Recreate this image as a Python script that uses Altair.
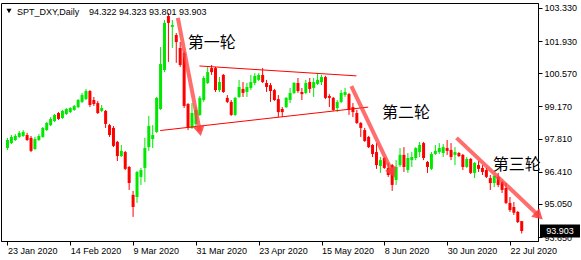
import math
import altair as alt
import pandas as pd

# ---------------- data ----------------
header_name = "SPT_DXY,Daily"

opens = [97.41, 97.62, 97.75, 97.88, 97.92, 97.96, 97.84, 97.37, 97.75, 97.88,
         98.17, 98.38, 98.55, 98.89, 98.68, 98.85, 98.93, 99.02, 99.14, 99.36,
         99.48, 99.82, 99.44, 99.31, 98.98, 98.98, 98.38, 98.26, 97.67, 97.07,
         97.24, 96.61, 95.43, 95.34, 96.19, 96.57, 97.45, 97.79, 98.09, 99.06,
         100.71, 102.99, 102.53, 102.19, 101.64, 101.43, 99.27, 98.26, 98.43, 98.81,
         99.44, 100.16, 100.79, 100.79, 99.86, 100.50, 99.53, 99.36, 98.81, 99.57,
         99.91, 99.78, 99.95, 100.16, 100.29, 100.50, 100.16, 100.07, 99.86, 99.48,
         99.06, 99.14, 99.44, 99.74, 100.16, 99.78, 99.74, 100.20, 99.95, 100.12,
         100.20, 100.41, 99.61, 99.53, 99.10, 99.36, 99.65, 99.69, 99.14, 98.89,
         98.47, 98.17, 97.88, 97.54, 97.24, 96.65, 96.99, 96.57, 96.69, 96.06,
         96.69, 97.12, 96.48, 96.90, 96.99, 97.24, 97.62, 96.82, 96.53, 97.16,
         97.24, 97.20, 97.41, 97.33, 97.12, 97.20, 97.12, 96.61, 96.95, 96.36,
         96.69, 96.57, 96.48, 96.14, 95.93, 96.19, 95.97, 95.72, 95.09, 94.92,
         94.71, 94.322]
highs = [97.84, 97.96, 98.00, 98.13, 98.17, 98.05, 97.92, 97.88, 98.00, 98.30,
         98.51, 98.72, 98.85, 98.93, 99.02, 99.10, 99.14, 99.23, 99.48, 99.74,
         99.91, 99.86, 99.57, 99.40, 99.23, 99.02, 98.43, 98.34, 97.71, 97.54,
         97.29, 96.65, 95.60, 96.44, 96.57, 97.84, 98.77, 98.38, 99.57, 101.68,
         102.82, 103.12, 102.82, 102.27, 101.89, 101.51, 99.31, 99.31, 99.14, 99.61,
         100.46, 100.84, 100.92, 100.84, 100.41, 100.54, 99.65, 99.44, 99.57, 100.29,
         100.20, 100.16, 100.50, 100.58, 100.58, 100.79, 100.29, 100.16, 99.91, 99.65,
         99.14, 99.57, 99.95, 100.20, 100.37, 99.95, 100.29, 100.37, 100.37, 100.58,
         100.50, 100.46, 99.69, 99.57, 99.44, 99.86, 99.95, 99.74, 99.31, 99.02,
         98.51, 98.26, 97.92, 97.58, 97.62, 97.03, 97.03, 96.78, 96.74, 96.90,
         97.41, 97.45, 97.20, 97.24, 97.45, 97.67, 97.67, 96.86, 97.24, 97.54,
         97.62, 97.58, 97.75, 97.62, 97.45, 97.24, 97.16, 97.03, 96.99, 96.82,
         96.86, 96.69, 96.57, 96.27, 96.27, 96.36, 96.02, 95.93, 95.34, 95.13,
         94.75, 94.323]
lows = [97.33, 97.58, 97.71, 97.84, 97.88, 97.71, 97.24, 97.33, 97.71, 97.84,
        98.13, 98.34, 98.51, 98.60, 98.64, 98.81, 98.89, 98.98, 99.10, 99.31,
        99.44, 99.14, 99.19, 98.85, 98.93, 98.26, 97.88, 97.45, 96.86, 97.03,
        96.48, 95.64, 94.50, 95.09, 95.85, 95.97, 97.29, 97.41, 98.05, 99.02,
        100.62, 101.05, 101.64, 101.01, 100.84, 99.10, 98.17, 98.22, 98.34, 98.77,
        99.36, 100.12, 100.50, 99.78, 99.78, 99.74, 99.31, 98.77, 98.77, 99.53,
        99.57, 99.57, 99.86, 100.07, 100.24, 100.16, 99.78, 99.36, 99.40, 98.72,
        98.72, 99.10, 99.31, 99.69, 99.74, 99.44, 99.69, 99.74, 99.57, 100.07,
        100.07, 99.48, 99.14, 98.98, 98.93, 99.31, 99.57, 98.81, 98.72, 98.43,
        97.88, 97.67, 97.41, 97.03, 96.53, 96.36, 96.53, 96.19, 95.60, 95.85,
        96.61, 96.40, 96.36, 96.61, 96.90, 97.03, 96.90, 96.36, 96.48, 97.12,
        97.16, 97.03, 97.12, 96.90, 96.69, 97.03, 96.48, 96.57, 96.31, 96.14,
        96.40, 96.27, 96.14, 95.64, 95.76, 95.76, 95.51, 95.04, 94.71, 94.58,
        94.24, 93.801]
closes = [97.75, 97.88, 97.92, 98.05, 98.09, 97.75, 97.29, 97.79, 97.92, 98.26,
          98.47, 98.64, 98.81, 98.64, 98.98, 99.06, 99.10, 99.19, 99.44, 99.65,
          99.82, 99.23, 99.27, 98.89, 99.10, 98.43, 97.96, 97.50, 97.07, 97.29,
          96.53, 95.93, 94.92, 96.40, 96.48, 97.41, 98.34, 97.96, 99.53, 100.96,
          102.70, 102.70, 102.61, 101.89, 100.92, 99.19, 98.26, 98.89, 99.02, 99.53,
          100.37, 100.62, 100.62, 99.86, 100.20, 99.78, 99.36, 98.81, 99.53, 99.99,
          99.74, 99.99, 100.20, 100.46, 100.50, 100.20, 99.99, 99.82, 99.44, 98.93,
          98.93, 99.53, 99.74, 100.16, 99.82, 99.69, 100.16, 99.91, 100.20, 100.29,
          100.41, 99.53, 99.53, 99.02, 99.36, 99.74, 99.78, 99.02, 98.93, 98.47,
          98.26, 97.71, 97.45, 97.16, 96.69, 96.90, 96.57, 96.27, 95.85, 96.61,
          97.12, 96.61, 96.99, 97.03, 97.41, 97.54, 96.99, 96.61, 97.16, 97.29,
          97.41, 97.45, 97.29, 97.03, 97.24, 97.07, 96.61, 96.95, 96.36, 96.78,
          96.53, 96.40, 96.19, 95.93, 96.23, 95.85, 95.64, 95.09, 94.79, 94.67,
          94.28, 93.903]

tick_idx = [0, 16, 32, 48, 64, 80, 96, 112, 128]
tick_labels = ["23 Jan 2020", "14 Feb 2020", "9 Mar 2020", "31 Mar 2020",
               "23 Apr 2020", "15 May 2020", "8 Jun 2020", "30 Jun 2020",
               "22 Jul 2020"]
y_ticks = [103.33, 101.93, 100.57, 99.17, 97.81, 96.41, 95.05, 93.65]

# annotations (bar index, price)
upper_i = [48.9, 88.9]
upper_p = [100.88, 100.46]
lower_i = [38.9, 91.9]
lower_p = [98.15, 99.14]
arrow_i0 = [43.4, 87.6, 114.4]
arrow_p0 = [102.91, 100.03, 97.84]
arrow_i1 = [49.0, 98.1, 135.4]
arrow_p1 = [98.13, 96.36, 94.54]
label_text = ["第一轮", "第二轮", "第三轮"]
label_i = [45.9, 95.4, 123.6]
label_p = [101.85, 98.89, 96.69]

# ---------------- chart ----------------
W, H = 537, 238
X_DOM = [-0.375, 133.875]
Y_DOM = [93.481, 103.541]
xs = alt.Scale(domain=X_DOM, nice=False, zero=False)
ys = alt.Scale(domain=Y_DOM, nice=False, zero=False)

GREEN = "#00e800"
RED = "#ff0000"
ARROW = "#ff3c3c"
FONT = "Liberation Sans"

n = len(closes)
candles = pd.DataFrame({
    "i": list(range(n)), "o": opens, "h": highs, "l": lows, "c": closes,
    "dir": ["up" if c >= o else "down" for o, c in zip(opens, closes)],
})
col = alt.Color("dir:N", scale=alt.Scale(domain=["up", "down"], range=[GREEN, RED]), legend=None)

label_expr = ("[" + ",".join(f"'{s}'" for s in tick_labels) + "][indexof(["
              + ",".join(str(v) for v in tick_idx) + "], datum.value)]")

x_axis = alt.Axis(values=tick_idx, labelExpr=label_expr, labelAlign="left",
                  labelFlush=False, labelOverlap=False, tickSize=4, labelPadding=1,
                  domainColor="black", tickColor="black", labelColor="black",
                  labelFont=FONT, labelFontSize=9, grid=False, title=None)
y_axis = alt.Axis(orient="right", values=y_ticks, format=".3f", labelFlush=False,
                  labelOverlap=False, tickSize=4, labelPadding=2,
                  domainColor="black", tickColor="black", labelColor="black",
                  labelFont=FONT, labelFontSize=9, grid=False, title=None)


def X(f):
    return alt.X(f, scale=xs, axis=x_axis)


def Y(f):
    return alt.Y(f, scale=ys, axis=y_axis)


wicks = alt.Chart(candles).mark_rule(strokeWidth=1).encode(
    x=X("i:Q"), y=Y("l:Q"), y2="h:Q", color=col)
bodies = alt.Chart(candles).mark_bar(size=3).encode(
    x=X("i:Q"), y=Y("o:Q"), y2="c:Q", color=col)

tri = pd.DataFrame({
    "line": ["u", "u", "l", "l"],
    "i": upper_i + lower_i,
    "p": upper_p + lower_p,
})
tri_lines = alt.Chart(tri).mark_line(color=RED, strokeWidth=1).encode(
    x=X("i:Q"), y=Y("p:Q"), detail="line:N")

px_x = W / (X_DOM[1] - X_DOM[0])
px_y = H / (Y_DOM[1] - Y_DOM[0])
arr_rows = []
head_rows = []
for k in range(len(arrow_i0)):
    arr_rows.append({"k": k, "i": arrow_i0[k], "p": arrow_p0[k]})
    arr_rows.append({"k": k, "i": arrow_i1[k], "p": arrow_p1[k]})
    dx = (arrow_i1[k] - arrow_i0[k]) * px_x
    dy = (arrow_p0[k] - arrow_p1[k]) * px_y
    ang = math.degrees(math.atan2(dx, -dy)) % 360
    head_rows.append({"k": k, "i": arrow_i1[k], "p": arrow_p1[k], "ang": ang})
arr_df = pd.DataFrame(arr_rows)
head_df = pd.DataFrame(head_rows)

arrows = alt.Chart(arr_df).mark_line(color=ARROW, strokeWidth=4, opacity=0.75,
                                     strokeCap="butt").encode(
    x=X("i:Q"), y=Y("p:Q"), detail="k:N")
heads = alt.Chart(head_df).mark_point(shape="triangle-up", size=140, filled=True,
                                      color=ARROW, opacity=0.85).encode(
    x=X("i:Q"), y=Y("p:Q"), angle=alt.Angle("ang:Q", scale=None))

lab_df = pd.DataFrame({"t": label_text, "i": label_i, "p": label_p})
labels = alt.Chart(lab_df).mark_text(align="left", baseline="middle",
                                     font="Noto Sans CJK SC", fontSize=16,
                                     color="black").encode(
    x=X("i:Q"), y=Y("p:Q"), text="t:N")

hdr_vals = " ".join(f"{v:.3f}" for v in [opens[-1], highs[-1], lows[-1], closes[-1]])
hdr_df = pd.DataFrame({"t": [header_name], "v": [hdr_vals]})
hdr_name = alt.Chart(hdr_df).mark_text(align="left", baseline="alphabetic", font=FONT,
                                       fontSize=9, color="black").encode(
    x=alt.value(16), y=alt.value(11.5), text="t:N")
hdr_num = alt.Chart(hdr_df).mark_text(align="left", baseline="alphabetic", font=FONT,
                                      fontSize=9, color="black").encode(
    x=alt.value(88), y=alt.value(11.5), text="v:N")
hdr_tri = alt.Chart(hdr_df).mark_point(shape="triangle-down", size=26, filled=True,
                                       color="black", opacity=1).encode(
    x=alt.value(8), y=alt.value(8))

last_df = pd.DataFrame({"p": [closes[-1]], "t": [f"{closes[-1]:.3f}"]})
box_path = "M-1,-0.325L1,-0.325L1,0.325L-1,0.325Z"
last_box = alt.Chart(last_df).mark_point(shape=box_path, size=1600, filled=True,
                                         color="black", opacity=1).encode(
    x=alt.value(W + 22), y=Y("p:Q"))
last_txt = alt.Chart(last_df).mark_text(align="center", baseline="middle", font=FONT,
                                        fontSize=9, color="white").encode(
    x=alt.value(W + 22), y=Y("p:Q"), text="t:N")

chart = alt.layer(
    wicks, bodies, tri_lines, arrows, heads, labels,
    hdr_tri, hdr_name, hdr_num, last_box, last_txt,
).properties(
    width=W, height=H,
    padding={"left": 1, "top": 3, "right": 43, "bottom": 19},
    autosize=alt.AutoSizeParams(type="none"),
    background="white",
).configure_view(stroke="black", strokeWidth=1)

chart.save("out.html", embed_options={"renderer": "svg", "actions": False})
